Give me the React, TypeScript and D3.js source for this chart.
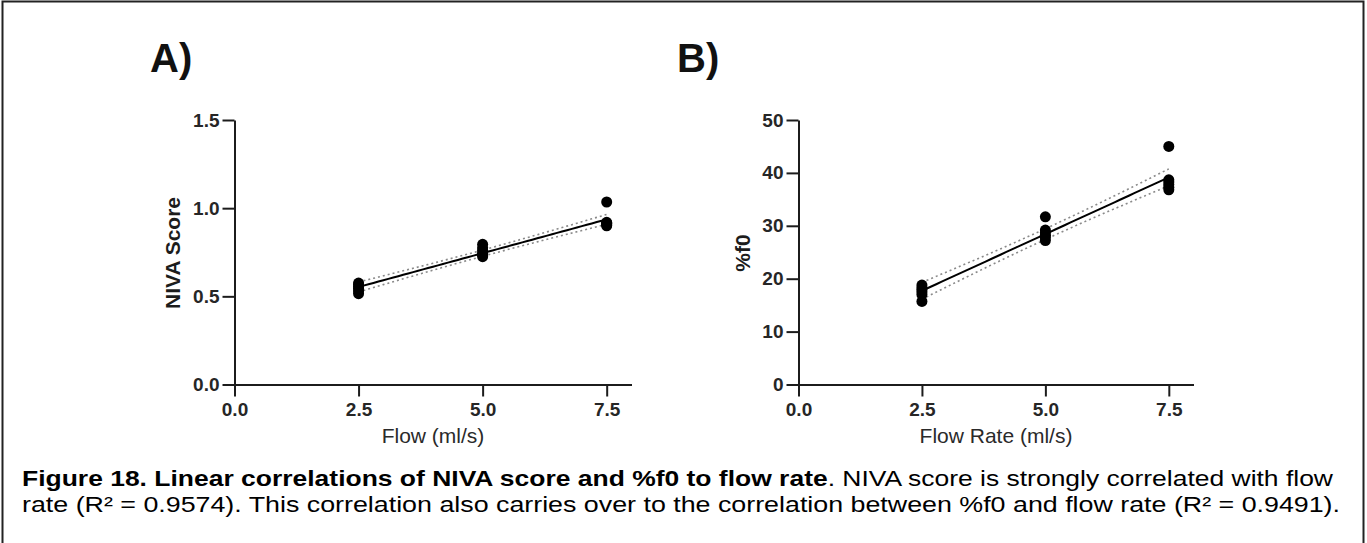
import { useEffect, useRef } from "react";
import { axisBottom, axisLeft, line, range, scaleLinear, select } from "d3";

// flow rates used in both panels (ml/s)
const flowLevels = [2.5, 5.0, 7.5];

// panel A: NIVA score, one list of replicates per flow level
const nivaScores = [
  [0.515, 0.53, 0.545, 0.555, 0.565, 0.575],
  [0.725, 0.735, 0.745, 0.76, 0.775, 0.795],
  [0.9, 0.905, 0.91, 0.915, 0.92, 1.035],
];

// panel B: %f0, one list of replicates per flow level
const f0Percent = [
  [15.7, 17.0, 17.5, 17.9, 18.3, 18.8],
  [27.2, 27.8, 28.2, 28.7, 29.2, 31.7],
  [36.8, 37.3, 37.8, 38.3, 38.7, 45.0],
];

const flowTicks = [0, 2.5, 5.0, 7.5];
const nivaTicks = [0, 0.5, 1.0, 1.5];
const f0Ticks = [0, 10, 20, 30, 40, 50];

const FONT = "'Liberation Sans', Arial, Helvetica, sans-serif";
const INK = "#1c1c1c";

const top = 120;
const bottom = 384.5;

function styleAxis(g, fontSize) {
  g.select(".domain").attr("stroke", INK).attr("stroke-width", 2);
  g.selectAll(".tick line").attr("stroke", INK).attr("stroke-width", 2);
  g.selectAll(".tick text")
    .attr("fill", "#262626")
    .attr("font-size", fontSize)
    .attr("font-weight", "bold")
    .attr("font-family", FONT);
}

function AxisBottom({ scale, ticks, format, transform }) {
  const ref = useRef(null);
  useEffect(() => {
    if (ref.current) {
      const g = select(ref.current);
      g.call(
        axisBottom(scale)
          .tickValues(ticks)
          .tickFormat(format)
          .tickSize(12)
          .tickSizeOuter(0)
          .tickPadding(6)
      );
      styleAxis(g, 19);
    }
  }, [scale]);
  return <g ref={ref} transform={transform} />;
}

function AxisLeft({ scale, ticks, format, transform }) {
  const ref = useRef(null);
  useEffect(() => {
    if (ref.current) {
      const g = select(ref.current);
      g.call(
        axisLeft(scale)
          .tickValues(ticks)
          .tickFormat(format)
          .tickSize(12)
          .tickSizeOuter(0)
          .tickPadding(3)
      );
      styleAxis(g, 19);
    }
  }, [scale]);
  return <g ref={ref} transform={transform} />;
}

// least squares fit with 95% confidence band of the mean
function fitLine(xs, groups) {
  const pts = [];
  groups.forEach((vals, i) => vals.forEach((v) => pts.push([xs[i], v])));
  const n = pts.length;
  const mx = pts.reduce((s, p) => s + p[0], 0) / n;
  const my = pts.reduce((s, p) => s + p[1], 0) / n;
  let sxx = 0;
  let sxy = 0;
  pts.forEach(([x, y]) => {
    sxx += (x - mx) * (x - mx);
    sxy += (x - mx) * (y - my);
  });
  const slope = sxy / sxx;
  const icpt = my - slope * mx;
  let sse = 0;
  pts.forEach(([x, y]) => {
    const r = y - (icpt + slope * x);
    sse += r * r;
  });
  const s = Math.sqrt(sse / (n - 2));
  const t = 2.12;
  const xsSample = range(xs[0], xs[xs.length - 1] + 0.001, 0.1);
  return xsSample.map((x) => {
    const yhat = icpt + slope * x;
    const half = t * s * Math.sqrt(1 / n + ((x - mx) * (x - mx)) / sxx);
    return { x, y: yhat, lo: yhat - half, hi: yhat + half };
  });
}

function Panel({ x0, width, data, yDomain, yTicks, yFormat, yLabel, yLabelX, xLabel, letter, letterX }) {
  const scaleX = scaleLinear().domain([0, 8]).range([x0, x0 + width]);
  const scaleY = scaleLinear().domain(yDomain).range([bottom, top]);
  const fit = fitLine(flowLevels, data);

  const mid = line()
    .x((d) => scaleX(d.x))
    .y((d) => scaleY(d.y));
  const lo = line()
    .x((d) => scaleX(d.x))
    .y((d) => scaleY(d.lo));
  const hi = line()
    .x((d) => scaleX(d.x))
    .y((d) => scaleY(d.hi));

  return (
    <g>
      <text x={letterX} y={72} fontSize={40} fontWeight="bold" fontFamily={FONT} fill="#111">
        {letter}
      </text>
      <AxisLeft
        scale={scaleY}
        ticks={yTicks}
        format={yFormat}
        transform={`translate(${x0}, 0)`}
      />
      <AxisBottom
        scale={scaleX}
        ticks={flowTicks}
        format={(d) => d.toFixed(1)}
        transform={`translate(0, ${bottom})`}
      />
      <text
        transform={`translate(${yLabelX}, 253) rotate(-90)`}
        textAnchor="middle"
        dominantBaseline="central"
        fontSize={21}
        fontWeight="bold"
        fontFamily={FONT}
        fill={INK}
      >
        {yLabel}
      </text>
      <text
        x={x0 + width / 2}
        y={443}
        textAnchor="middle"
        fontSize={21}
        fontFamily={FONT}
        fill="#2a2a2a"
      >
        {xLabel}
      </text>
      <path d={lo(fit)} fill="none" stroke="#8a8a8a" strokeWidth={1.6} strokeDasharray="2,3" />
      <path d={hi(fit)} fill="none" stroke="#8a8a8a" strokeWidth={1.6} strokeDasharray="2,3" />
      {data.map((vals, i) =>
        vals.map((v, j) => (
          <circle key={`${i}-${j}`} cx={scaleX(flowLevels[i])} cy={scaleY(v)} r={5.5} fill="#000" />
        ))
      )}
      <path d={mid(fit)} fill="none" stroke="#000" strokeWidth={2} />
    </g>
  );
}

export default function App() {
  return (
    <svg
      width={1367}
      height={543}
      style={{ position: "absolute", left: 0, top: 0, background: "#fff" }}
    >
      <rect x={2.5} y={1.5} width={1361} height={600} fill="none" stroke="#222" strokeWidth={2} />
      <Panel
        x0={234.5}
        width={397}
        data={nivaScores}
        yDomain={[0, 1.5]}
        yTicks={nivaTicks}
        yFormat={(d) => d.toFixed(1)}
        yLabel="NIVA Score"
        yLabelX={172}
        xLabel="Flow (ml/s)"
        letter="A)"
        letterX={150}
      />
      <Panel
        x0={798.5}
        width={395}
        data={f0Percent}
        yDomain={[0, 50]}
        yTicks={f0Ticks}
        yFormat={(d) => String(d)}
        yLabel="%f0"
        yLabelX={742}
        xLabel="Flow Rate (ml/s)"
        letter="B)"
        letterX={677}
      />
      <text x={22} y={486} fontSize={22} fontFamily={FONT} fill="#000" textLength={1311} lengthAdjust="spacingAndGlyphs">
        <tspan fontWeight="bold">Figure 18. Linear correlations of NIVA score and %f0 to flow rate</tspan>
        <tspan>. NIVA score is strongly correlated with flow</tspan>
      </text>
      <text x={22} y={512} fontSize={22} fontFamily={FONT} fill="#000" textLength={1318} lengthAdjust="spacingAndGlyphs">
        rate (R² = 0.9574). This correlation also carries over to the correlation between %f0 and flow rate (R² = 0.9491).
      </text>
    </svg>
  );
}
